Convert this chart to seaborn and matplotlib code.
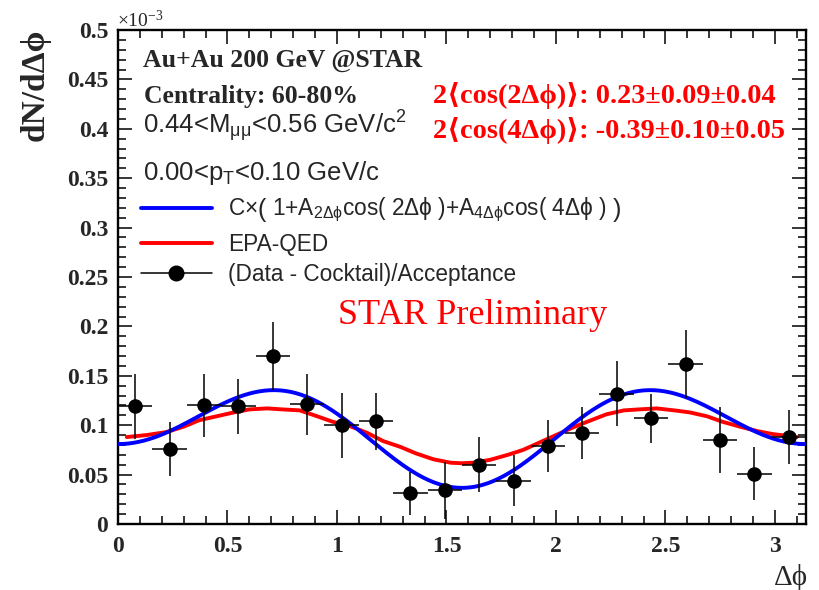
import numpy as np
import pandas as pd
import matplotlib
matplotlib.use("Agg")
import matplotlib.pyplot as plt
from matplotlib.lines import Line2D
from matplotlib.ticker import FixedLocator
import seaborn as sns

# ---- data -------------------------------------------------------------
# Delta-phi bin centres and the measured yields (units of 1e-3)
dphi = [0.079, 0.236, 0.393, 0.550, 0.707, 0.864, 1.021, 1.178, 1.335, 1.492,
        1.649, 1.806, 1.963, 2.120, 2.277, 2.434, 2.592, 2.749, 2.906, 3.063]
yield_vals = [0.119, 0.076, 0.120, 0.119, 0.170, 0.121, 0.100, 0.104, 0.031, 0.034,
              0.060, 0.044, 0.079, 0.092, 0.132, 0.107, 0.162, 0.085, 0.051, 0.088]
yield_err = [0.033, 0.027, 0.032, 0.028, 0.034, 0.031, 0.033, 0.029, 0.022, 0.029,
             0.028, 0.026, 0.026, 0.026, 0.033, 0.025, 0.034, 0.033, 0.027, 0.027]
bin_half_width = 0.0785

# EPA-QED prediction
qed_dphi = [0.04, 0.13, 0.22, 0.30, 0.37, 0.45, 0.53, 0.60, 0.68, 0.75, 0.83, 0.91,
            0.98, 1.06, 1.14, 1.21, 1.29, 1.36, 1.44, 1.52, 1.57, 1.62, 1.70, 1.78,
            1.85, 1.93, 2.00, 2.08, 2.16, 2.23, 2.31, 2.38, 2.46, 2.54, 2.61, 2.69,
            2.76, 2.84, 2.92, 2.99, 3.10]
qed_vals = [0.088, 0.090, 0.093, 0.0985, 0.105, 0.109, 0.113, 0.116, 0.117, 0.116, 0.115, 0.109,
            0.1035, 0.099, 0.092, 0.084, 0.078, 0.0715, 0.0655, 0.062, 0.0615, 0.062, 0.065, 0.070,
            0.075, 0.083, 0.090, 0.098, 0.105, 0.111, 0.115, 0.116, 0.117, 0.115, 0.113, 0.109,
            0.1035, 0.0985, 0.094, 0.091, 0.088]

# Fit: C x (1 + A2 cos(2 dphi) + A4 cos(4 dphi))
fit_C = 0.0963
fit_A2 = 0.23
fit_A4 = -0.39

x_ticks = [0, 0.5, 1, 1.5, 2, 2.5, 3]
x_tick_labels = ["0", "0.5", "1", "1.5", "2", "2.5", "3"]
y_ticks = [0, 0.05, 0.1, 0.15, 0.2, 0.25, 0.3, 0.35, 0.4, 0.45, 0.5]
y_tick_labels = ["0", "0.05", "0.1", "0.15", "0.2", "0.25", "0.3", "0.35", "0.4", "0.45", "0.5"]

# ---- style ------------------------------------------------------------
sns.set_style("ticks")
plt.rcParams["font.family"] = ["Liberation Serif", "DejaVu Serif"]
plt.rcParams["mathtext.fontset"] = "custom"
plt.rcParams["mathtext.rm"] = "Liberation Sans"
plt.rcParams["mathtext.it"] = "Liberation Sans:italic"
plt.rcParams["mathtext.bf"] = "Liberation Sans:bold"
plt.rcParams["mathtext.default"] = "regular"

SERIF = ["Liberation Serif", "DejaVu Serif"]
SANS = ["Liberation Sans", "DejaVu Sans"]

W, H = 819, 590
fig = plt.figure(figsize=(W / 100, H / 100), dpi=100)
fig.patch.set_facecolor("white")
ax = fig.add_axes([118 / W, 1 - 524 / H, 688 / W, 494 / H])
ax.set_facecolor("white")


def fx(px):
    return px / W


def fy(py):
    return 1 - py / H


# ---- curves -----------------------------------------------------------
fit_x = np.linspace(0, np.pi, 400)
fit_y = fit_C * (1 + fit_A2 * np.cos(2 * fit_x) + fit_A4 * np.cos(4 * fit_x))
fit_df = pd.DataFrame({"dphi": fit_x, "val": fit_y})
qed_df = pd.DataFrame({"dphi": qed_dphi, "val": qed_vals})
data_df = pd.DataFrame({"dphi": dphi, "val": yield_vals, "err": yield_err})

sns.lineplot(data=qed_df, x="dphi", y="val", ax=ax, color="#ff0000", lw=2.8,
             estimator=None, sort=False, legend=False, zorder=3)
sns.lineplot(data=fit_df, x="dphi", y="val", ax=ax, color="#0000ff", lw=2.8,
             estimator=None, sort=False, legend=False, zorder=4)

ax.errorbar(data_df["dphi"], data_df["val"], yerr=data_df["err"],
            xerr=bin_half_width, fmt="none", ecolor="black", elinewidth=1.1,
            capsize=0, zorder=5)
sns.scatterplot(data=data_df, x="dphi", y="val", ax=ax, color="black", s=110,
                edgecolor="black", linewidth=0, legend=False, zorder=6)

# ---- axes -------------------------------------------------------------
ax.set_xlim(0, np.pi)
ax.set_ylim(0, 0.5)
ax.set_xlabel("")
ax.set_ylabel("")
ax.xaxis.set_major_locator(FixedLocator(x_ticks))
ax.yaxis.set_major_locator(FixedLocator(y_ticks))
ax.xaxis.set_minor_locator(FixedLocator(np.round(np.arange(0, 3.15, 0.1), 2)))
ax.yaxis.set_minor_locator(FixedLocator(np.round(np.arange(0, 0.501, 0.01), 3)))
ax.set_xticklabels(x_tick_labels, family=SERIF, weight="bold", fontsize=17)
ax.set_yticklabels(y_tick_labels, family=SERIF, weight="bold", fontsize=17)
ax.tick_params(which="both", direction="in", top=True, right=True,
               color="black", width=1.1)
ax.tick_params(which="major", length=10)
ax.tick_params(which="minor", length=5.5)
ax.tick_params(axis="y", pad=7)
ax.tick_params(axis="x", pad=9)
for sp in ax.spines.values():
    sp.set_visible(True)
    sp.set_color("black")
    sp.set_linewidth(1.7)

fig.text(fx(117), fy(27), r"$\times$10$^{-3}$", family=SERIF, fontsize=14,
         ha="left", va="baseline")
fig.text(fx(35), fy(85), "dN/dΔϕ", rotation=90, family=SERIF, weight="bold",
         fontsize=24, ha="center", va="center")
fig.text(fx(808), fy(585), "Δϕ", family=SERIF, fontsize=21, ha="right",
         va="baseline")

# ---- annotations --------------------------------------------------------
fig.text(fx(143), fy(67), "Au+Au 200 GeV @STAR", family=SERIF, weight="bold",
         fontsize=18.5, va="baseline")
fig.text(fx(144), fy(103), "Centrality: 60-80%", family=SERIF, weight="bold",
         fontsize=18.5, va="baseline")
fig.text(fx(143), fy(133), r"0.44<M$_{μμ}$<0.56 GeV/c$^{2}$", family=SANS,
         fontsize=18.5, va="baseline")
fig.text(fx(143), fy(180), r"0.00<p$_{T}$<0.10 GeV/c", family=SANS,
         fontsize=18.5, va="baseline")
fig.text(fx(433), fy(103), "2⟨cos(2Δϕ)⟩: 0.23±0.09±0.04", family=SERIF,
         weight="bold", fontsize=20.3, color="#ff0000", va="baseline")
fig.text(fx(433), fy(138), "2⟨cos(4Δϕ)⟩: -0.39±0.10±0.05", family=SERIF,
         weight="bold", fontsize=20.3, color="#ff0000", va="baseline")
fig.text(fx(338), fy(324), "STAR Preliminary", family=SERIF, fontsize=26,
         color="#ff0000", va="baseline")

fit_label = (r"$C{\times}\left(\ 1{+}A_{2\Delta\phi}cos\left(\ 2\Delta\phi\ \right)"
             r"{+}A_{4\Delta\phi}cos\left(\ 4\Delta\phi\ \right)\ \right)$")
handles = [
    Line2D([], [], color="#0000ff", lw=2.8),
    Line2D([], [], color="#ff0000", lw=2.8),
    Line2D([], [], color="black", lw=1.1, marker="o", markersize=10.5),
]
labels = [fit_label, "EPA-QED", "(Data - Cocktail)/Acceptance"]
ax.legend(handles, labels, loc="upper left", bbox_to_anchor=(0.0334, 0.665),
          frameon=False, prop={"family": SANS, "size": 16.3}, handlelength=3.13,
          handletextpad=0.71, labelspacing=0.34, borderpad=0, borderaxespad=0)

fig.savefig("out.png", dpi=100, facecolor="white")
